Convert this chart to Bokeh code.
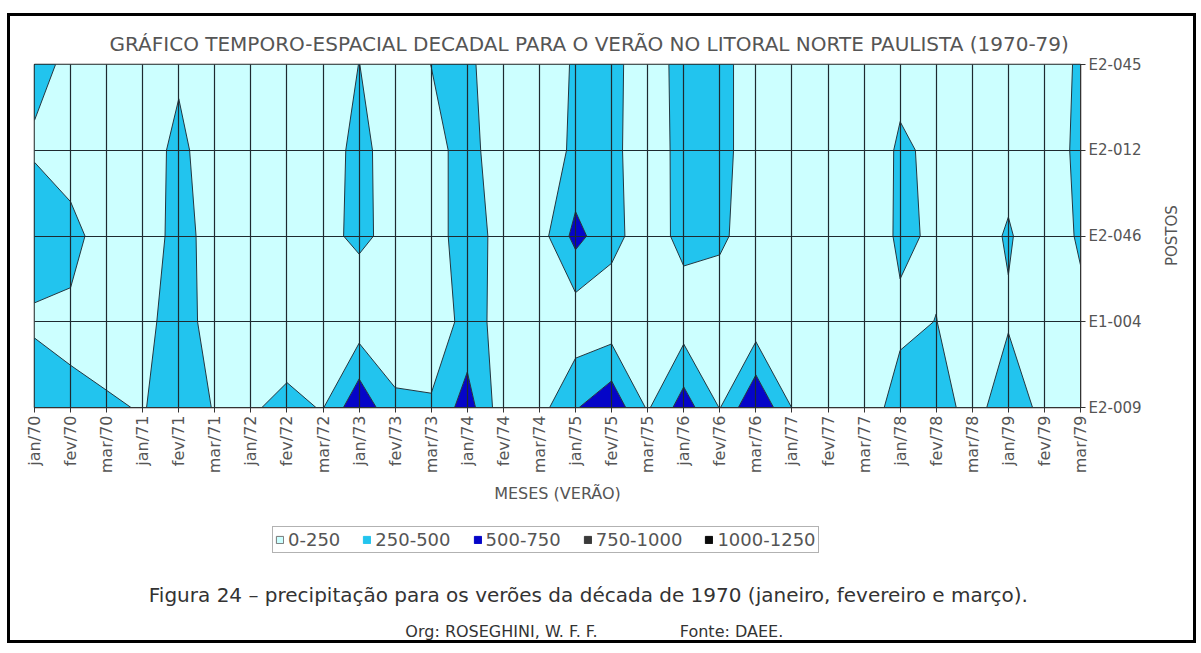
import math
import numpy as np
from bokeh.plotting import figure
from bokeh.layouts import column
from bokeh.models import Range1d, FixedTicker, Legend, LegendItem, LinearAxis
from bokeh.core.properties import value
from bokeh.embed import file_html
from bokeh.resources import INLINE

# ---------------- data ----------------
months = ["jan/70", "fev/70", "mar/70", "jan/71", "fev/71", "mar/71",
          "jan/72", "fev/72", "mar/72", "jan/73", "fev/73", "mar/73",
          "jan/74", "fev/74", "mar/74", "jan/75", "fev/75", "mar/75",
          "jan/76", "fev/76", "mar/76", "jan/77", "fev/77", "mar/77",
          "jan/78", "fev/78", "mar/78", "jan/79", "fev/79", "mar/79"]
stations = ["E2-009", "E1-004", "E2-046", "E2-012", "E2-045"]

e2_009 = [361, 282, 275, 238, 350, 239, 232, 291, 240, 700, 280, 280, 620, 90, 160,
          480, 680, 220, 620, 240, 745, 245, 120, 187, 300, 350, 170, 370, 191, 200]
e1_004 = [224, 217, 150, 186, 350, 158, 150, 150, 150, 100, 150, 100, 330, 183, 150,
          80, 100, 150, 120, 108, 100, 150, 120, 170, 225, 252, 180, 232, 180, 211]
e2_046 = [342, 300, 175, 120, 330, 163, 150, 150, 197, 290, 190, 188, 320, 197, 137,
          580, 320, 130, 320, 290, 136, 150, 120, 150, 275, 230, 180, 265, 158, 270]
e2_012 = [235, 175, 150, 105, 325, 75, 150, 150, 131, 320, 131, 188, 320, 131, 100,
          300, 300, 135, 320, 320, 136, 150, 120, 113, 280, 209, 180, 197, 133, 300]
e2_045 = [278, 230, 150, 150, 200, 150, 150, 150, 150, 252, 150, 252, 300, 92, 200,
          260, 300, 150, 320, 320, 136, 150, 120, 150, 190, 150, 150, 150, 144, 280]

levels = [0, 250, 500, 750, 1000, 1250]
band_labels = ["0-250", "250-500", "500-750", "750-1000", "1000-1250"]
band_colors = ["#CCFFFF", "#22C4EE", "#0505C8", "#3A3A3A", "#0A0A0A"]

title_text = "GRÁFICO TEMPORO-ESPACIAL DECADAL PARA O VERÃO NO LITORAL NORTE PAULISTA (1970-79)"
caption_text = "Figura 24 \u2013 precipitação para os verões da década de 1970 (janeiro, fevereiro e março)."
org_text = "Org: ROSEGHINI, W. F. F."
fonte_text = "Fonte: DAEE."
postos_text = "POSTOS"

# ---------------- chart figure ----------------
FONT = "DejaVu Sans"
TXT = "#555555"
W = 1183

z = np.array([e2_009, e1_004, e2_046, e2_012, e2_045], dtype=float)
xs = np.arange(len(months), dtype=float)
ys = np.arange(len(stations), dtype=float)

p = figure(width=W, height=500, output_backend="svg", toolbar_location=None,
           x_range=Range1d(0, len(months) - 1), y_range=Range1d(0, len(stations) - 1),
           y_axis_location="right",
           min_border_left=24, min_border_right=107, min_border_top=48,
           min_border_bottom=109)

p.contour(xs, ys, z, levels, fill_color=band_colors,
          line_color="#23363f", line_width=1)

p.title.text = title_text
p.title.align = "left"
p.title.offset = 75
p.title.standoff = 17
p.title.text_font = FONT
p.title.text_font_size = "20px"
p.title.text_font_style = "normal"
p.title.text_color = TXT

p.xaxis.ticker = FixedTicker(ticks=list(range(len(months))))
p.xaxis.major_label_overrides = {i: m for i, m in enumerate(months)}
p.xaxis.major_label_orientation = math.pi / 2
p.xaxis.major_label_text_font_size = "16px"
p.xaxis.axis_label = "MESES (VERÃO)"
p.xaxis.axis_label_text_font = FONT
p.xaxis.axis_label_text_font_size = "16px"
p.xaxis.axis_label_text_font_style = "normal"
p.xaxis.axis_label_text_color = TXT
p.xaxis.axis_label_standoff = 8

p.yaxis.ticker = FixedTicker(ticks=list(range(len(stations))))
p.yaxis.major_label_overrides = {i: s for i, s in enumerate(stations)}
p.yaxis.major_label_text_font_size = "15px"

for ax in (p.xaxis[0], p.yaxis[0]):
    ax.major_label_text_font = FONT
    ax.major_label_text_color = TXT
    ax.major_tick_out = 5
    ax.major_tick_in = 0
    ax.minor_tick_line_color = None
    ax.axis_line_color = "#333333"
    ax.major_tick_line_color = "#333333"
    ax.major_label_standoff = 3

# second right-hand axis carrying the "POSTOS" title (rotated, reading upward);
# its single tick is set so that the rotated word is centred on the plot height
postos_tick = 1.65
postos_axis = LinearAxis(ticker=FixedTicker(ticks=[postos_tick]),
                         major_label_overrides={postos_tick: postos_text},
                         major_label_orientation=math.pi / 2,
                         major_label_text_font=FONT,
                         major_label_text_font_size="15px",
                         major_label_text_color=TXT,
                         major_label_standoff=22,
                         axis_line_color=None, major_tick_line_color=None,
                         minor_tick_line_color=None)
p.add_layout(postos_axis, "right")

for g in (p.xgrid[0], p.ygrid[0]):
    g.grid_line_color = "#1e2a30"
    g.grid_line_width = 1.2
    g.level = "overlay"
p.xgrid.ticker = p.xaxis[0].ticker
p.ygrid.ticker = p.yaxis[0].ticker

p.outline_line_color = "#222222"
p.outline_line_width = 1.5

# ---------------- legend + caption figure ----------------
HB = 124
Y0 = 516  # top of this strip in page pixels
q = figure(width=W, height=HB, output_backend="svg", toolbar_location=None,
           x_range=Range1d(34, 1086), y_range=Range1d(Y0 + HB, Y0),
           min_border=0, x_axis_type=None, y_axis_type=None)
q.grid.visible = False
q.outline_line_color = None

items = []
for lab, col in zip(band_labels, band_colors):
    r = q.quad(left=[-1e6], right=[-1e6 + 1], bottom=[-1e6], top=[-1e6 + 1],
               fill_color=col,
               line_color="#777777" if col == "#CCFFFF" else col)
    items.append(LegendItem(label=lab, renderers=[r]))
legend = Legend(items=items, orientation="horizontal", location=(238, 87),
                label_text_font=FONT, label_text_font_size="18px",
                label_text_color=TXT, glyph_width=9, glyph_height=9,
                label_standoff=4, spacing=22, padding=2, margin=0,
                border_line_color="#666666", border_line_width=1,
                background_fill_color="white", background_fill_alpha=1)
q.add_layout(legend, "center")

q.text(x=[591], y=[594], text=[caption_text], text_align="center",
       text_baseline="middle", text_font=value(FONT), text_font_size="20px",
       text_color="#333333")
q.text(x=[407, 683], y=[631, 631], text=[org_text, fonte_text], text_align="left",
       text_baseline="middle", text_font=value(FONT), text_font_size="16px",
       text_color="#333333")

layout = column(p, q, spacing=0,
                styles={"border": "3px solid black", "margin-left": "7px",
                        "margin-top": "13px"})

open("out.html", "w").write(file_html(layout, INLINE))
